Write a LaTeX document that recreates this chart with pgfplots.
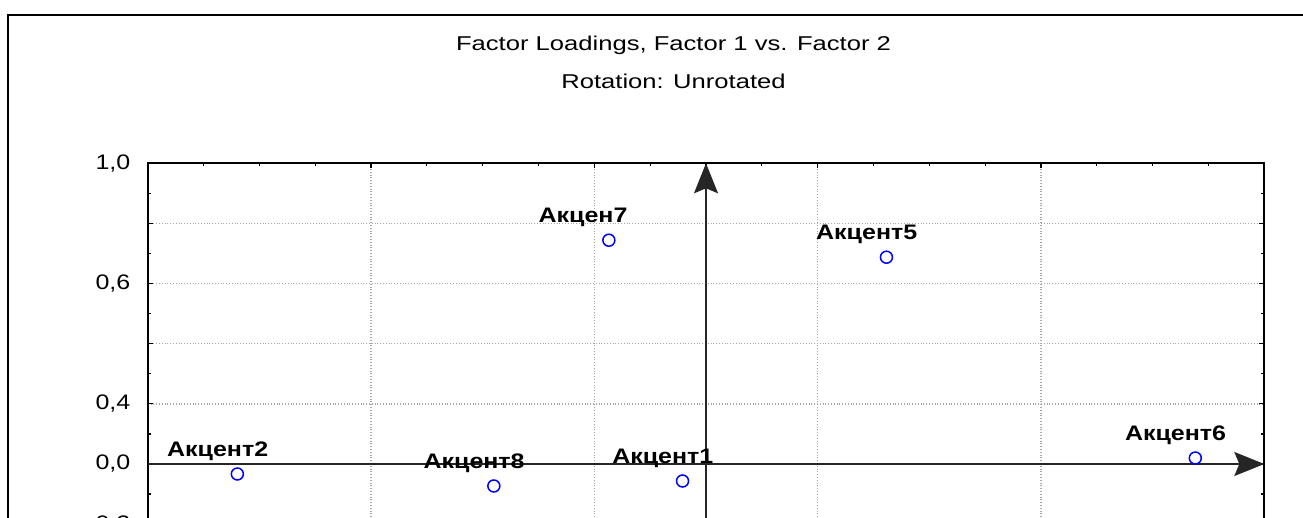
\documentclass[border=0pt]{standalone}
\usepackage{fontspec}
\setmainfont{Liberation Sans}
\newfontfamily\titlefont[FakeStretch=1.28]{Liberation Sans}
\newfontfamily\tickfont[FakeStretch=1.19]{Liberation Sans}
\newfontfamily\labelfont[FakeStretch=1.19]{Liberation Sans}
\usepackage{pgfplots}
\usepackage{pgfplotstable}
\pgfplotsset{compat=1.18}
\usetikzlibrary{arrows.meta}

\pgfplotstableread{
x y label
-0.4197 -0.0332 Акцент2
-0.1900 -0.0731 Акцент8
-0.0870 0.7442 Акцен7
-0.0210 -0.0565 Акцент1
0.1616 0.6877 Акцент5
0.4382 0.0199 Акцент6
}\loadings

\begin{document}
\begin{tikzpicture}
\useasboundingbox (0pt,0pt) rectangle (651.5pt,259pt);
\clip (0pt,0pt) rectangle (651.5pt,259pt);
\fill[white] (0pt,0pt) rectangle (651.5pt,259pt);
\draw[line width=1pt, black] (4pt,-10pt) -- (4pt,251.5pt) -- (660pt,251.5pt);
\node[anchor=base, inner sep=0pt, font=\titlefont\fontsize{10}{12}\selectfont] at (336.75pt,233.5pt) {Factor Loadings, Factor 1 vs. Factor 2};
\node[anchor=base, inner sep=0pt, font=\titlefont\fontsize{10}{12}\selectfont] at (336.75pt,214.5pt) {Rotation: Unrotated};
\begin{axis}[
  scale only axis,
  width=558.3pt, height=210.5pt,
  at={(73.85pt,-33.15pt)}, anchor=south west,
  xmin=-0.5, xmax=0.5, ymin=-0.4, ymax=1.0,
  xtick={-0.5,-0.3,-0.1,0.1,0.3,0.5}, xticklabels={},
  minor x tick num=3,
  ytick={-0.4,-0.2,0,0.2,0.4,0.6,0.8,1.0},
  yticklabels={,{-0,2},{0,0},{0,4},,{0,6},,{1,0}},
  minor y tick num=1,
  tick pos=both,
  tick align=inside,
  major tick length=2.5pt, minor tick length=1.5pt,
  tick style={black, line width=0.6pt},
  axis line style={black, line width=1pt},
  grid=major,
  major grid style={densely dotted, color=black!35, line width=0.7pt},
  yticklabel style={font=\tickfont\fontsize{10.5}{12}\selectfont, anchor=east, inner sep=0pt},
  ylabel shift=0pt,
  yticklabel shift=8.5pt,
  clip=false,
]
\addplot[black!85, line width=0.75pt, -{Stealth[length=15pt,width=12pt,inset=2.5pt]}] coordinates {(-0.5,0) (0.5,0)};
\addplot[black!85, line width=0.75pt, -{Stealth[length=15pt,width=12pt,inset=2.5pt]}] coordinates {(0,-0.4) (0,1.0)};
\addplot[only marks, mark=o, mark size=3pt, blue, mark options={line width=0.75pt},
  nodes near coords, point meta=explicit symbolic,
  nodes near coords style={anchor=west, xshift=-35.5pt, yshift=11.5pt, inner sep=0pt, text=black,
    font=\labelfont\bfseries\fontsize{10.5}{12}\selectfont}]
  table[x=x, y=y, meta=label]{\loadings};
\end{axis}
\end{tikzpicture}
\end{document}
